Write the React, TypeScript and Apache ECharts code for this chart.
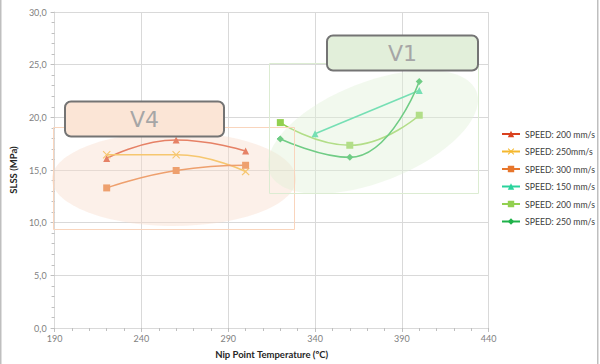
import React, { useEffect, useRef } from "react";
import * as echarts from "echarts";

// Data
const tempV4 = [220, 260, 300];
const slss200V4 = [16.1, 17.85, 16.8];
const slss250V4 = [16.45, 16.45, 14.85];
const slss300V4 = [13.3, 14.95, 15.45];

const tempV1short = [340, 400];
const slss150V1 = [18.45, 22.55];
const tempV1 = [320, 360, 400];
const slss200V1 = [19.5, 17.35, 20.2];
const slss250V1 = [17.95, 16.2, 23.4];

const seriesNames = [
  "SPEED: 200 mm/s",
  "SPEED: 250mm/s",
  "SPEED: 300 mm/s",
  "SPEED: 150 mm/s",
  "SPEED: 200 mm/s ",
  "SPEED: 250 mm/s",
];
const seriesColors = ["#d9411e", "#f5b82e", "#e7762c", "#2ad39c", "#92d050", "#1fb24a"];

const xTicks = { min: 190, max: 440, interval: 50 };
const yTicks = { min: 0, max: 30, interval: 5 };

const FONT = "Lato, 'Noto Sans', sans-serif";
const crossSymbol =
  "path://M0,1L1,0L5,4L9,0L10,1L6,5L10,9L9,10L5,6L1,10L0,9L4,5Z";

const zip = (xs: number[], ys: number[]) => xs.map((x, i) => [x, ys[i]]);

export default function App() {
  const ref = useRef<HTMLDivElement>(null);
  useEffect(() => {
    if (!ref.current) return;
    const chart = echarts.init(ref.current, undefined, { renderer: "svg" });
    const mk = (i: number, xs: number[], ys: number[], symbol: string, size: number) => ({
      type: "line",
      name: seriesNames[i],
      data: zip(xs, ys),
      smooth: xs.length > 2 ? 0.5 : false,
      symbol,
      symbolSize: size,
      showSymbol: true,
      lineStyle: { color: seriesColors[i], width: 1.6 },
      itemStyle: { color: seriesColors[i] },
      z: 2,
    });
    chart.setOption({
      animation: false,
      backgroundColor: "#ffffff",
      textStyle: { fontFamily: FONT },
      grid: { left: 50, right: 111.3, top: 12, bottom: 32.3 },
      legend: {
        orient: "vertical",
        left: 496,
        top: 124,
        itemWidth: 18,
        itemHeight: 8,
        itemGap: 7.5,
        data: seriesNames,
        formatter: (n: string) => n.trim(),
        textStyle: { fontSize: 8.7, color: "#404040", fontFamily: FONT, lineHeight: 10 },
      },
      xAxis: {
        type: "value",
        min: xTicks.min,
        max: xTicks.max,
        interval: xTicks.interval,
        name: "Nip Point Temperature (ºC)",
        nameLocation: "middle",
        nameGap: 21,
        nameTextStyle: { fontWeight: "bold", fontSize: 9.5, color: "#262626", fontFamily: FONT },
        axisLine: { show: true, lineStyle: { color: "#d9d9d9" } },
        axisTick: { show: true, length: 4, lineStyle: { color: "#bfbfbf" } },
        minorTick: { show: true, splitNumber: 5, length: 3, lineStyle: { color: "#bfbfbf" } },
        axisLabel: { color: "#7f7f7f", fontSize: 9, margin: 6, fontFamily: FONT },
        splitLine: { show: true, lineStyle: { color: "#d9d9d9" } },
      },
      yAxis: {
        type: "value",
        min: yTicks.min,
        max: yTicks.max,
        interval: yTicks.interval,
        name: "SLSS (MPa)",
        nameLocation: "middle",
        nameGap: 30,
        nameTextStyle: { fontWeight: "bold", fontSize: 9.5, color: "#262626", fontFamily: FONT },
        axisLine: { show: true, lineStyle: { color: "#d9d9d9" } },
        axisTick: { show: true, length: 4, lineStyle: { color: "#bfbfbf" } },
        minorTick: { show: true, splitNumber: 5, length: 3, lineStyle: { color: "#bfbfbf" } },
        axisLabel: {
          color: "#7f7f7f",
          fontSize: 9,
          margin: 8,
          fontFamily: FONT,
          formatter: (v: number) => v.toFixed(1).replace(".", ","),
        },
        splitLine: { show: true, lineStyle: { color: "#d9d9d9" } },
      },
      series: [
        mk(0, tempV4, slss200V4, "triangle", 7),
        mk(1, tempV4, slss250V4, crossSymbol, 8),
        mk(2, tempV4, slss300V4, "rect", 7),
        mk(3, tempV1short, slss150V1, "triangle", 7),
        mk(4, tempV1, slss200V1, "rect", 7),
        mk(5, tempV1, slss250V1, "diamond", 7),
      ],
      graphic: [
        { type: "line", z: 100, shape: { x1: 0.75, y1: 0, x2: 0.75, y2: 364 }, style: { stroke: "#bfbfbf", lineWidth: 1.5 } },
        { type: "line", z: 100, shape: { x1: 597.75, y1: 0, x2: 597.75, y2: 364 }, style: { stroke: "#bfbfbf", lineWidth: 1.5 } },
        // V4 group
        { type: "ellipse", z: 50, shape: { cx: 174, cy: 179, rx: 122, ry: 47 }, style: { fill: "rgba(248,219,202,0.42)" } },
        { type: "rect", z: 51, shape: { x: 53.5, y: 127.5, width: 241, height: 102 }, style: { fill: "none", stroke: "#f9d5bd", lineWidth: 1 } },
        { type: "rect", z: 60, shape: { x: 65, y: 101.5, width: 159, height: 35, r: 6 }, style: { fill: "#fbe5d6", stroke: "#747474", lineWidth: 2 } },
        { type: "text", z: 61, x: 144.5, y: 119.5, style: { text: "V4", fill: "#a6a6a6", fontSize: 22, fontFamily: "'DejaVu Sans', sans-serif", align: "center", verticalAlign: "middle" } },
        // V1 group
        { type: "ellipse", z: 50, x: 373, y: 132, rotation: 0.375, shape: { cx: 0, cy: 0, rx: 111, ry: 50 }, style: { fill: "rgba(225,240,215,0.42)" } },
        { type: "rect", z: 51, shape: { x: 269.5, y: 63.5, width: 209, height: 130 }, style: { fill: "none", stroke: "#dcecd2", lineWidth: 1 } },
        { type: "rect", z: 60, shape: { x: 327, y: 35.5, width: 151, height: 35, r: 6 }, style: { fill: "#e2efda", stroke: "#747474", lineWidth: 2 } },
        { type: "text", z: 61, x: 402.5, y: 53, style: { text: "V1", fill: "#a6a6a6", fontSize: 22, fontFamily: "'DejaVu Sans', sans-serif", align: "center", verticalAlign: "middle" } },
      ],
    });
    return () => chart.dispose();
  }, []);
  return (
    <div
      ref={ref}
      style={{ position: "fixed", left: 0, top: 0, width: 600, height: 364, background: "#fff" }}
    />
  );
}
